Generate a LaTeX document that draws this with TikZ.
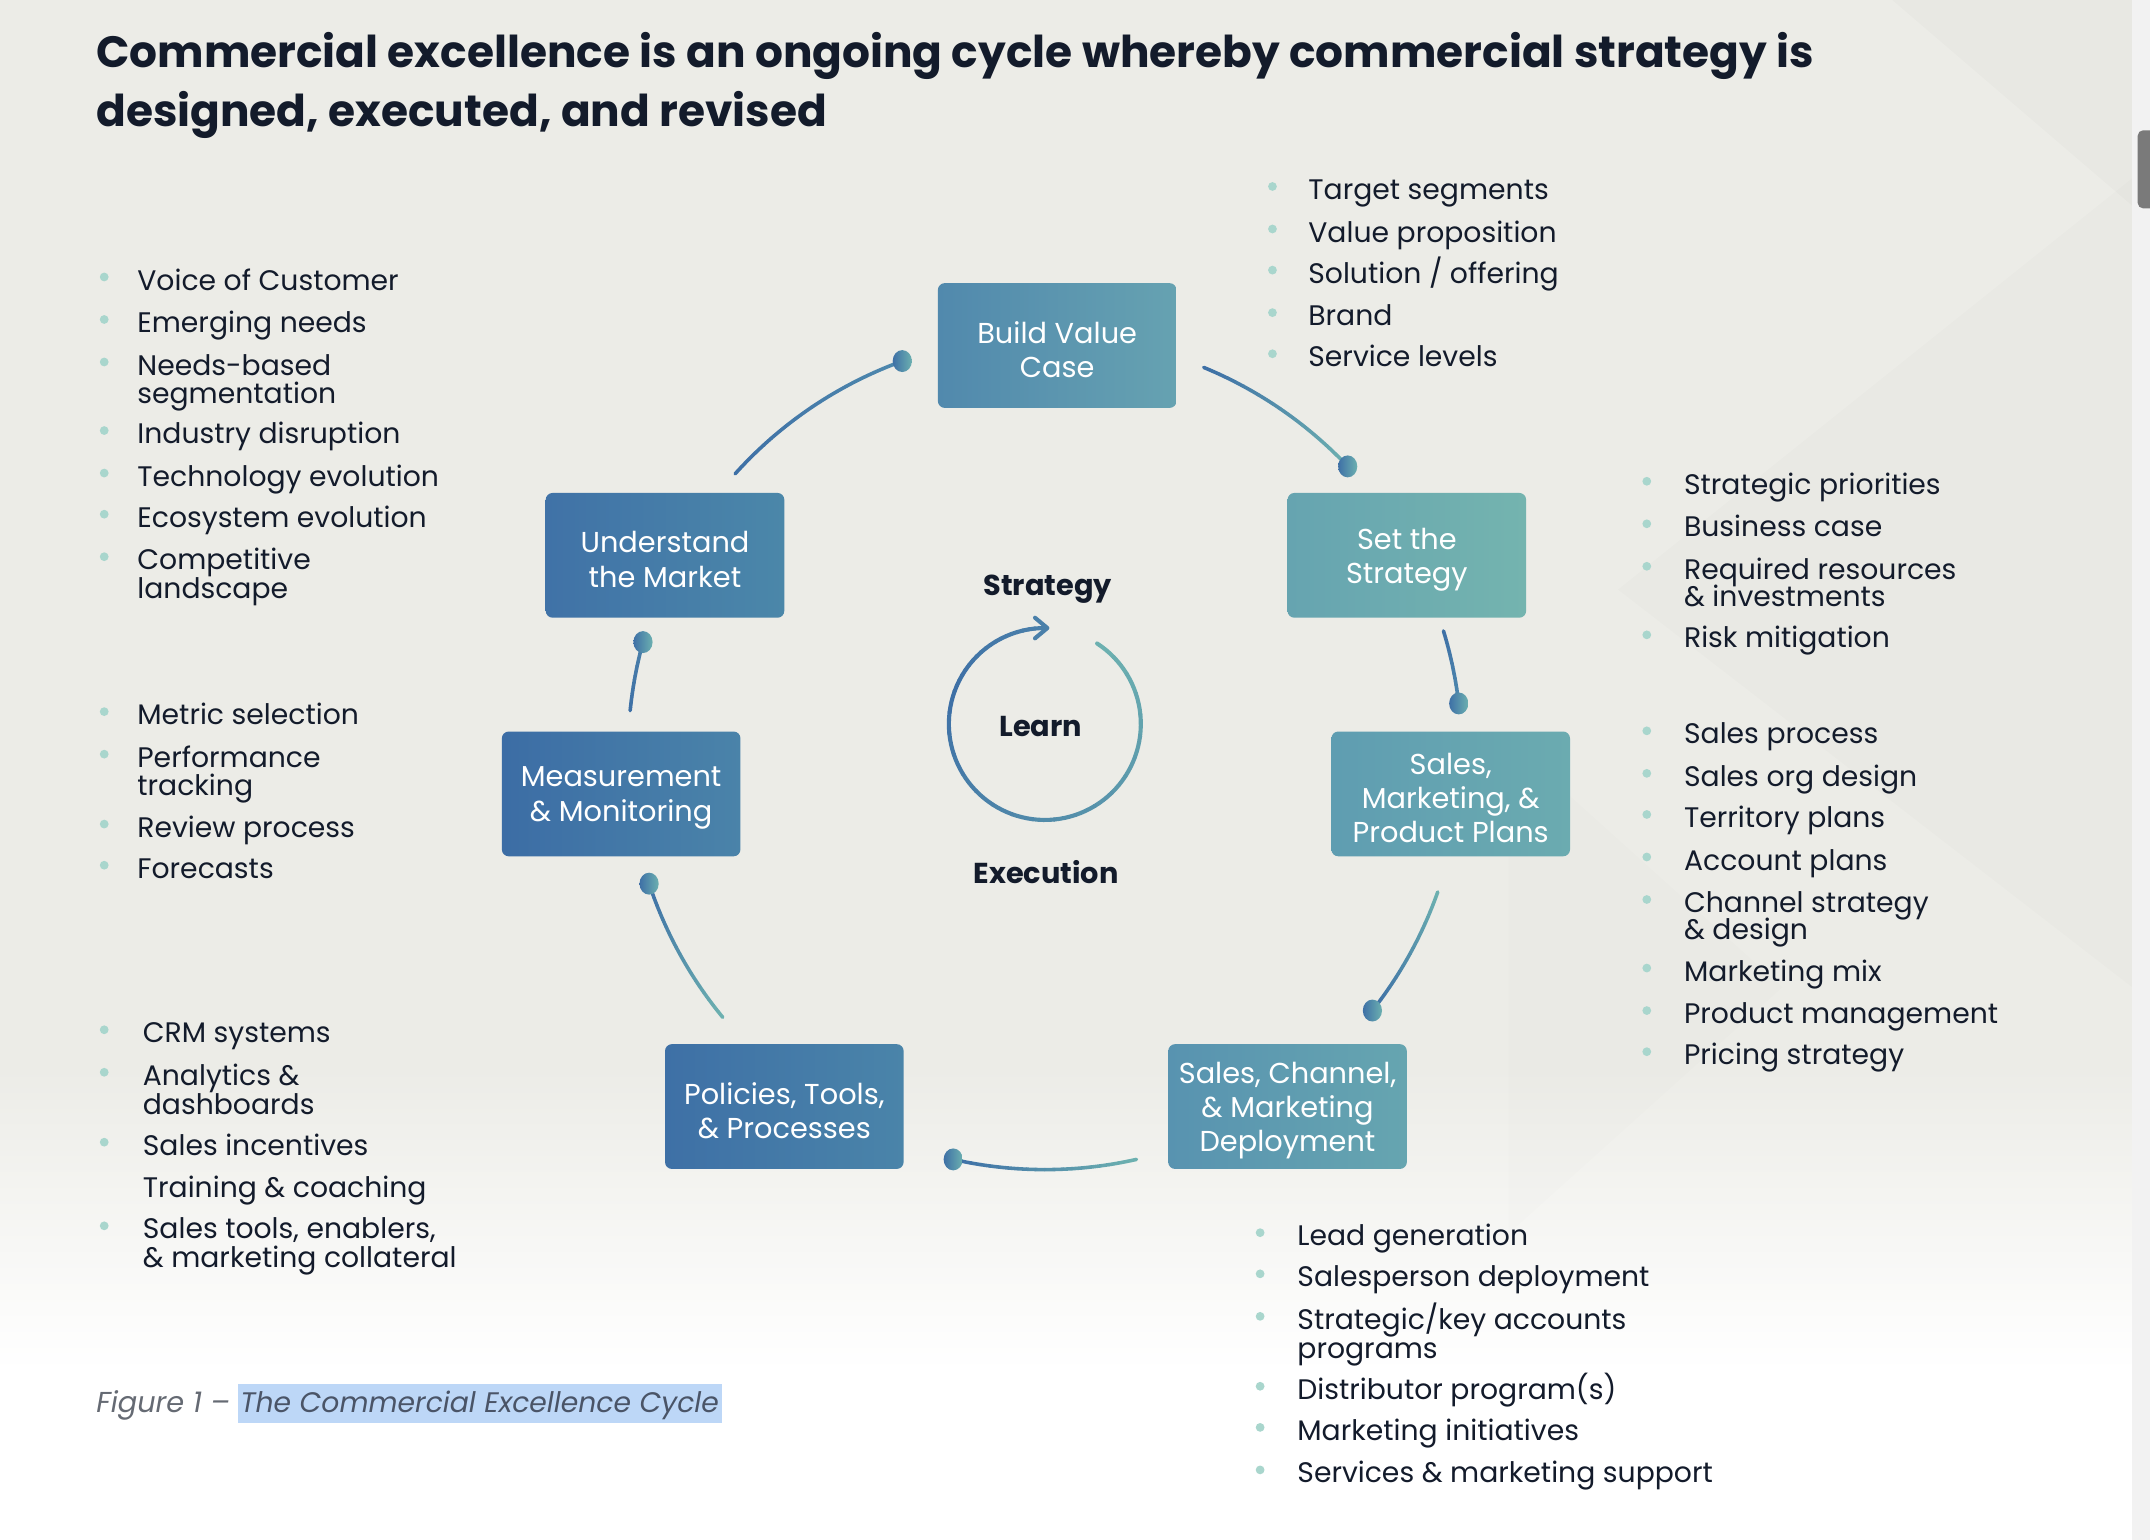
\documentclass[tikz,border=0pt]{standalone}
\usepackage{fontspec}
\setmainfont{Poppins}
\usetikzlibrary{calc,shapes.geometric}
\definecolor{txt}{HTML}{131B2B}
\definecolor{bulc}{HTML}{A9D6CD}
\definecolor{bgc}{HTML}{ECECE7}
\definecolor{blueA}{HTML}{3E70A6}
\definecolor{blueB}{HTML}{4A80AA}
\definecolor{blueC}{HTML}{4E88AD}
\definecolor{tealA}{HTML}{6CB0B0}
\definecolor{capgray}{HTML}{656A73}
\definecolor{hltxt}{HTML}{4A5467}
\definecolor{hl}{HTML}{BDD7F7}
\definecolor{bvcL}{HTML}{5189AD}\definecolor{bvcR}{HTML}{66A2B1}
\definecolor{stsL}{HTML}{66A4B0}\definecolor{stsR}{HTML}{74B4AF}
\definecolor{smpL}{HTML}{5F9DB1}\definecolor{smpR}{HTML}{6BABB0}
\definecolor{scmL}{HTML}{5893B0}\definecolor{scmR}{HTML}{66A5B0}
\definecolor{ptpL}{HTML}{3E70A6}\definecolor{ptpR}{HTML}{4A84A9}
\definecolor{mmL}{HTML}{3C6DA5}\definecolor{mmR}{HTML}{4A83A9}
\definecolor{utmL}{HTML}{4072A7}\definecolor{utmR}{HTML}{4B87A9}
\newcommand\gradarc[6]{%
  \foreach \k in {0,...,19}{%
    \pgfmathsetmacro\pa{#1+(#2-#1)*\k/20}%
    \pgfmathsetmacro\pb{#1+(#2-#1)*(\k+1)/20}%
    \pgfmathtruncatemacro\pc{100*\k/19}%
    \draw[#6, draw={#4!\pc!#3}] (\pa:#5) arc[start angle=\pa, end angle=\pb, radius=#5];
  }}
\newcommand\blist[4]{%
  \foreach \yy/\txt/\bb [count=\i] in {#4} {%
    \node[itemtxt] (#1\i) at (#3,\yy+8.5) {\txt};
    \ifnum\bb=1 \fill[bulc] (#2,\yy-1) circle (3.2); \fi
  }}
% box: shaded rounded rectangle + text slightly lowered
\newcommand\cbox[6]{%
  \node[boxshape, left color=#4, right color=#5] (#1) at (#2,#3) {};
  \node[boxtext] (#1-t) at ([yshift=-3pt]#1.center) {#6};
}
\begin{document}
\begin{tikzpicture}[x=1pt,y=-1pt,
  boxshape/.style={rounded corners=5pt, minimum width=174, minimum height=91, inner sep=0pt, draw=none},
  boxtext/.style={inner sep=0pt, text=white, align=center, font=\fontsize{21}{25}\selectfont},
  itemtxt/.style={anchor=base west, inner sep=0pt, text=txt, font=\fontsize{20.6}{25}\selectfont},
  lbl/.style={anchor=base, inner sep=0pt, text=txt, font=\bfseries\fontsize{21}{25}\selectfont},
  arcline/.style={line width=2.6pt, line cap=round},
  circline/.style={line width=3pt, line cap=round},
  dotst/.style={ellipse, minimum width=14, minimum height=16, inner sep=0pt, left color=blueA, right color=tealA, draw=none}
]
\useasboundingbox (0,0) rectangle (1568,1123);
% background
\fill[white] (0,0) rectangle (1568,1123);
\fill[bgc] (0,0) rectangle (1568,780);
\shade[top color=bgc, bottom color=white] (0,779) rectangle (1568,1000);
\fill[black, opacity=0.015] (1380,0) -- (1555,0) -- (1555,150) -- cycle;
\fill[black, opacity=0.012] (1180,430) -- (1555,130) -- (1555,720) -- cycle;
\fill[black, opacity=0.008] (1100,540) -- (1300,720) -- (1100,900) -- cycle;
% scrollbar
\fill[black!5] (1555,0) rectangle (1568,1123);
\fill[black!52, rounded corners=4pt] (1559,95) rectangle (1572,152);

% title
\node[anchor=base west, inner sep=0pt, text=txt, font=\bfseries\fontsize{32}{40}\selectfont] (t1) at (70,49)
  {Commercial excellence is an ongoing cycle whereby commercial strategy is};
\node[anchor=base west, inner sep=0pt, text=txt, font=\bfseries\fontsize{32}{40}\selectfont] (t2) at (70,92)
  {designed, executed, and revised};

% boxes
\cbox{bvc}{771}{252}{bvcL}{bvcR}{Build Value\\Case}
\cbox{sts}{1026}{405}{stsL}{stsR}{Set the\\Strategy}
\cbox{smp}{1058}{579}{smpL}{smpR}{Sales,\\Marketing, \&\\Product Plans}
\cbox{scm}{939}{807}{scmL}{scmR}{Sales, Channel,\\\& Marketing\\Deployment}
\cbox{ptp}{572}{807}{ptpL}{ptpR}{\fontsize{21}{20.5}\selectfont Policies, Tools,\\\& Processes}
\cbox{mm}{453}{579}{mmL}{mmR}{\fontsize{21}{21}\selectfont Measurement\\\& Monitoring}
\cbox{utm}{485}{405}{utmL}{utmR}{Understand\\the Market}

% cycle connectors
\begin{scope}[shift={(762,549)}]
  \gradarc{-138}{-110}{blueA}{blueC}{304}{arcline}
  \gradarc{-67.6}{-43.4}{blueA}{tealA}{304}{arcline}
  \gradarc{-17}{-6.8}{blueA}{blueC}{304}{arcline}
  \gradarc{19.5}{38.2}{tealA}{blueA}{304}{arcline}
  \gradarc{77.3}{102.7}{tealA}{blueA}{304}{arcline}
  \gradarc{140.6}{161.7}{tealA}{blueA}{304}{arcline}
  \gradarc{185.8}{195.4}{blueA}{blueB}{304}{arcline}
  \node[dotst] (d1) at (-110:304) {};
  \node[dotst] (d2) at (-43.4:304) {};
  \node[dotst] (d3) at (-6.8:304) {};
  \node[dotst] (d4) at (38.2:304) {};
  \node[dotst] (d5) at (102.7:304) {};
  \node[dotst] (d6) at (161.7:304) {};
  \node[dotst] (d7) at (195.4:304) {};
\end{scope}

% learn circle
\begin{scope}[shift={(762,528)}]
  \gradarc{-57}{200}{tealA}{blueA}{70}{circline}
  \gradarc{200}{271}{blueA}{blueB}{70}{circline}
  \coordinate (tip) at (271.5:70);
\end{scope}
\draw[circline, blueB, line join=round] ([shift={(-9,-7.5)}]tip) -- (tip) -- ([shift={(-9,7.5)}]tip);
\node[lbl] (lstr) at (764,434) {Strategy};
\node[lbl] (llearn) at (759,537) {Learn};
\node[lbl] (lexec) at (763,644) {Execution};

% lists
\blist{la}{76}{100}{203/Voice of Customer/1, 234/Emerging needs/1, 265/Needs-based/1, 286/segmentation/0,
  315/Industry disruption/1, 346/Technology evolution/1, 376/Ecosystem evolution/1, 407/Competitive/1, 428/landscape/0}
\blist{lb}{76}{100}{520/Metric selection/1, 551/Performance/1, 572/tracking/0, 602/Review process/1, 632/Forecasts/1}
\blist{lc}{76}{104}{752/CRM systems/1, 783/Analytics \&/1, 804/dashboards/0, 834/Sales incentives/1,
  865/Training \& coaching/0, 895/{Sales tools, enablers,}/1, 916/\& marketing collateral/0}
\blist{ra}{928}{954}{137/Target segments/1, 168/Value proposition/1, 198/{Solution / offering}/1, 229/Brand/1, 259/Service levels/1}
\blist{rb}{1201}{1228}{352/Strategic priorities/1, 383/Business case/1, 414/Required resources/1, 434/\& investments/0, 464/Risk mitigation/1}
\blist{rc}{1201}{1228}{534/Sales process/1, 565/Sales org design/1, 595/Territory plans/1, 626/Account plans/1,
  657/Channel strategy/1, 677/\& design/0, 707/Marketing mix/1, 738/Product management/1, 768/Pricing strategy/1}
\blist{bt}{919}{946}{900/Lead generation/1, 930/Salesperson deployment/1, 961/{Strategic/key accounts}/1, 982/programs/0,
  1012/Distributor program(s)/1, 1042/Marketing initiatives/1, 1073/Services \& marketing support/1}

% caption
\node[anchor=base west, inner sep=0pt, text=capgray, font=\itshape\fontsize{21}{25}\selectfont] (cap1) at (70,1030) {Figure 1 –};
\node[anchor=base west, fill=hl, inner xsep=2pt, inner ysep=0pt, text height=21, text depth=8, text=hltxt,
  font=\itshape\fontsize{20.6}{25}\selectfont] (cap2) at ([xshift=5]cap1.base east) {The Commercial Excellence Cycle};
\end{tikzpicture}
\end{document}
